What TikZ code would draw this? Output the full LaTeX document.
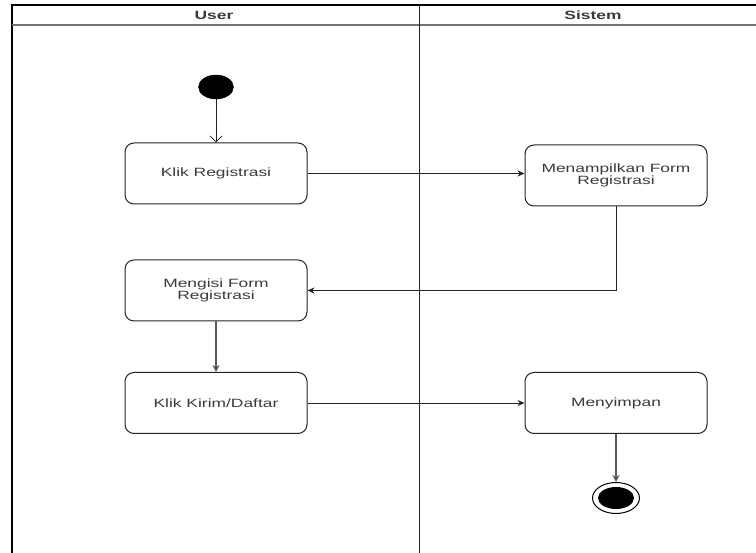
\documentclass[tikz,border=0pt]{standalone}
\usepackage{fontspec}
\setmainfont[FakeStretch=1.45]{Liberation Sans}
\usetikzlibrary{arrows.meta,shapes.geometric}
\definecolor{txt}{HTML}{3a3a3a}
\definecolor{ln}{HTML}{222222}
\begin{document}
\begin{tikzpicture}[x=1pt,y=-1pt,
  act/.style={draw=ln,line width=1pt,rounded corners=9pt,minimum width=182pt,minimum height=61pt,align=center,text=txt,font=\fontsize{12}{12.5}\selectfont,inner sep=2pt},
  flow/.style={draw=ln,line width=0.8pt,-{Stealth[length=7pt,width=6pt]}},
  gflow/.style={draw=black!65,line width=1.6pt,-{Stealth[length=7pt,width=7pt]}},
  hdr/.style={font=\bfseries\fontsize{12}{12}\selectfont,text=txt}]
\useasboundingbox (0,0) rectangle (756,553);
% swimlanes
\draw[line width=1.5pt] (12,553) -- (12,5) -- (760,5);
\draw[black!55,line width=1.6pt] (12,25) -- (760,25);
\draw[ln,line width=1pt] (419,5) -- (419,553);
\node[hdr] (hu) at (214,15) {User};
\node[hdr] (hs) at (593,15) {Sistem};
% nodes
\node[ellipse,fill=black,draw=black,minimum width=35pt,minimum height=24pt,inner sep=0] (start) at (216,87) {};
\node[act] (reg) at (216,173.5) {Klik Registrasi};
\node[act] (form) at (616,175.5) {Menampilkan Form\\Registrasi};
\node[act] (isi) at (216,290.5) {Mengisi Form\\Registrasi};
\node[act] (kirim) at (216,403) {Klik Kirim/Daftar};
\node[act] (simpan) at (616,403) {Menyimpan};
\node[ellipse,draw=black,line width=1pt,fill=white,minimum width=47pt,minimum height=31pt,inner sep=0] (end) at (616,498) {};
\node[ellipse,fill=black,minimum width=36pt,minimum height=22pt,inner sep=0] (endin) at (616,498) {};
% edges
\draw[ln,line width=0.8pt,-{Straight Barb[length=6pt,width=12pt]}] (start) -- (reg);
\draw[flow] (reg.east) -- (form.west |- reg.east);
\draw[flow] (form.south) |- (isi.east);
\draw[gflow] (isi) -- (kirim);
\draw[flow] (kirim) -- (simpan);
\draw[gflow] (simpan) -- (end);
\end{tikzpicture}
\end{document}
